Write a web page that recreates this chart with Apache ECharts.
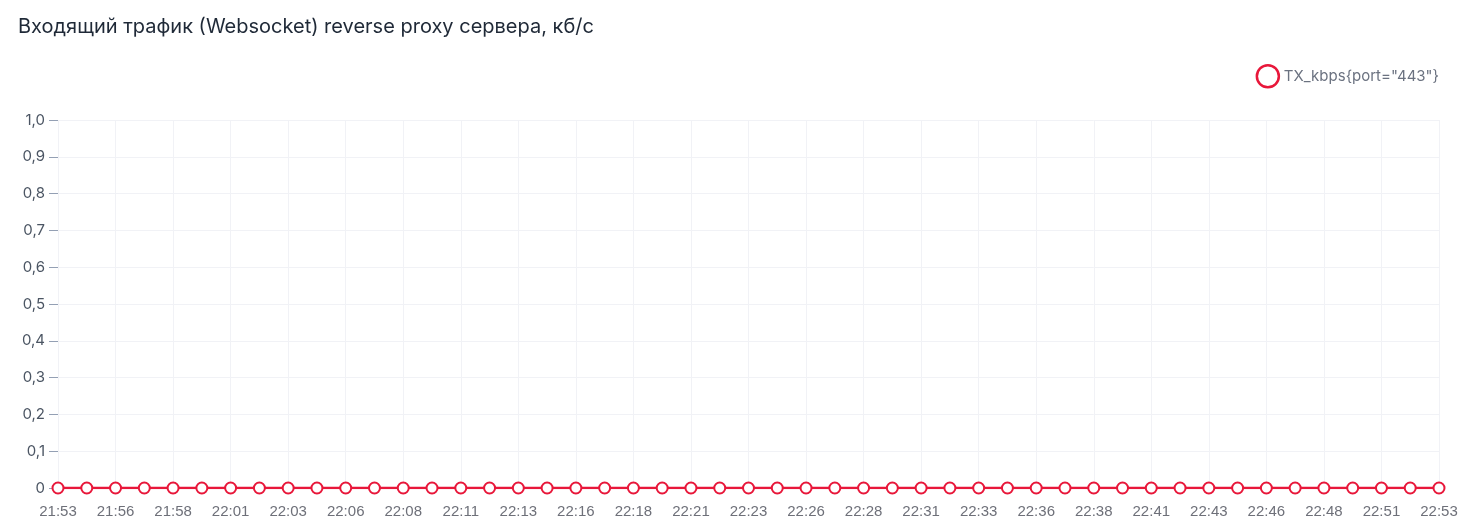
<!DOCTYPE html>
<html>
<head>
<meta charset="utf-8">
<script src="https://cdn.jsdelivr.net/npm/echarts@6/dist/echarts.min.js"></script>
<style>
  html, body { margin: 0; padding: 0; background: #fff; }
  #chart { width: 1476px; height: 532px; }
</style>
</head>
<body>
<div id="chart"></div>
<script>
// время (шаг 75 с), подписи HH:MM
var times = [
  '21:53','21:54','21:56','21:57','21:58','21:59','22:01','22:02','22:03','22:04',
  '22:06','22:07','22:08','22:09','22:11','22:12','22:13','22:14','22:16','22:17',
  '22:18','22:19','22:21','22:22','22:23','22:24','22:26','22:27','22:28','22:29',
  '22:31','22:32','22:33','22:34','22:36','22:37','22:38','22:39','22:41','22:42',
  '22:43','22:44','22:46','22:47','22:48','22:49','22:51','22:52','22:53'
];
// TX_kbps{port="443"}
var txKbps = [
  0,0,0,0,0,0,0,0,0,0,
  0,0,0,0,0,0,0,0,0,0,
  0,0,0,0,0,0,0,0,0,0,
  0,0,0,0,0,0,0,0,0,0,
  0,0,0,0,0,0,0,0,0
];
var seriesName = 'TX_kbps{port="443"}';
var red = '#e8173a';

var myChart = echarts.init(document.getElementById('chart'));
var option = {
  animation: false,
  textStyle: { fontFamily: 'Inter' },
  title: {
    text: 'Входящий трафик (Websocket) reverse proxy сервера, кб/с',
    left: 13, top: 12,
    textStyle: { fontFamily: 'Inter', fontSize: 20, fontWeight: 'normal', color: '#1f2937' }
  },
  legend: {
    data: [seriesName],
    right: 32, top: 59,
    icon: 'circle',
    itemWidth: 22, itemHeight: 22, itemGap: 10,
    itemStyle: { color: '#fff', borderColor: red, borderWidth: 2.5 },
    textStyle: { fontFamily: 'Inter', fontSize: 15, color: '#6b7280' }
  },
  grid: { left: 58, right: 37, top: 120, bottom: 44, containLabel: false },
  xAxis: {
    type: 'category',
    data: times,
    boundaryGap: false,
    axisLine: { show: false },
    axisTick: { show: false },
    axisLabel: { interval: 1, color: '#6e7079', fontSize: 15, margin: 16, fontFamily: 'Liberation Sans' },
    splitLine: { show: true, interval: 1, lineStyle: { color: '#f1f2f6', width: 1 } }
  },
  yAxis: {
    type: 'value',
    min: 0, max: 1, interval: 0.1,
    axisLine: { show: false },
    axisTick: { show: true, length: 9, lineStyle: { color: '#94a0b4' } },
    axisLabel: {
      color: '#4b5563', fontSize: 15, margin: 13, fontFamily: 'Inter',
      formatter: function (v) {
        if (v === 0) return '0';
        return v.toFixed(1).replace('.', ',');
      }
    },
    splitLine: { lineStyle: { color: '#f1f2f6', width: 1 } }
  },
  series: [{
    name: seriesName,
    type: 'line',
    data: txKbps,
    symbol: 'emptyCircle',
    symbolSize: 11,
    showAllSymbol: true,
    lineStyle: { color: red, width: 2.5 },
    itemStyle: { color: red, borderColor: red, borderWidth: 2.5 }
  }]
};
myChart.setOption(option);
</script>
</body>
</html>
